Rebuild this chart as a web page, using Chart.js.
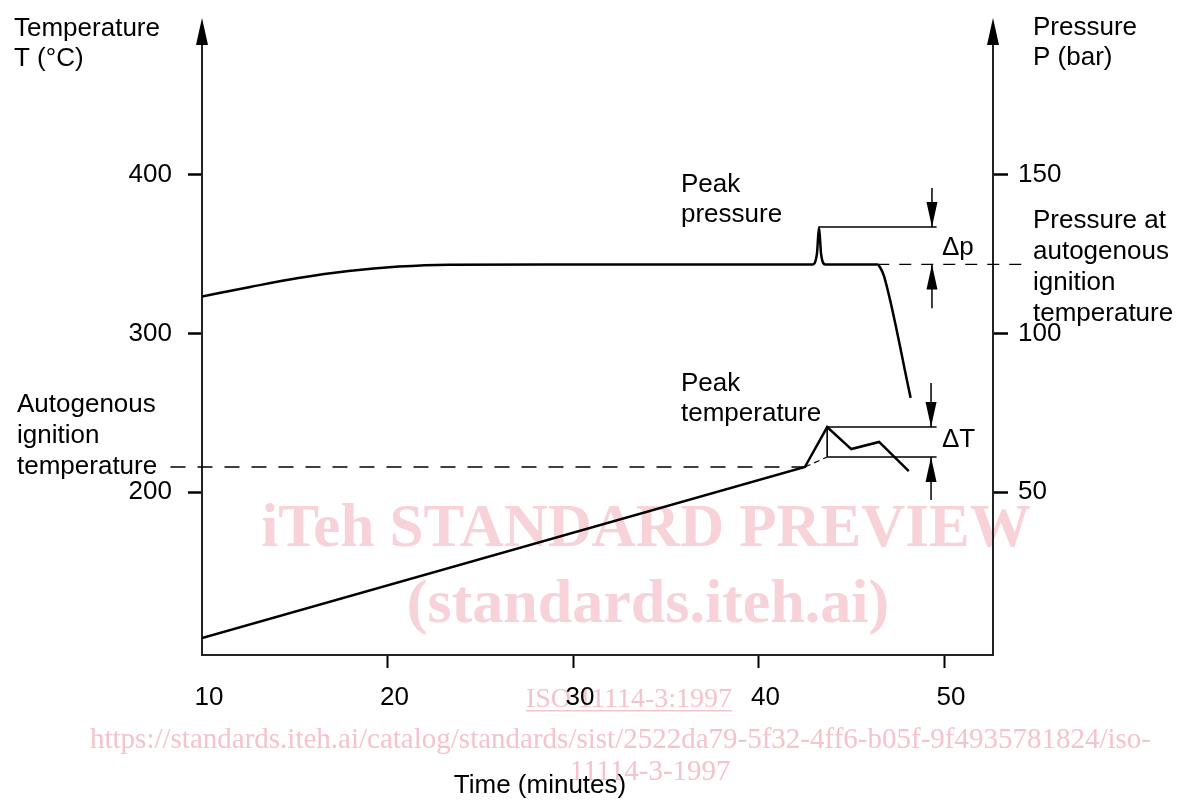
<!DOCTYPE html>
<html>
<head>
<meta charset="utf-8">
<script src="https://cdn.jsdelivr.net/npm/chart.js@4"></script>
<style>
  html, body { margin: 0; padding: 0; background: #fff; }
</style>
</head>
<body>
<canvas id="mycanvas" width="1177" height="803"></canvas>
<script>
// axis ticks
var timeTicks = [10, 20, 30, 40, 50];
var tempTicks = [200, 300, 400];
var pressTicks = [50, 100, 150];

// temperature curve (minutes / °C)
var tempTime  = [10, 42.5, 43.7, 45.0, 46.5, 48.1];
var tempValue = [107.9, 215.8, 241.0, 227.1, 231.6, 213.2];

// pressure curve (minutes / bar)
var pressTime  = [10, 12.6, 15.2, 17.9, 20.6, 23.3, 30, 42.9, 43.15, 43.26, 43.37, 43.6, 46.4, 46.55, 46.77, 48.2];
var pressValue = [111.7, 114.7, 117.5, 119.7, 121.1, 121.7, 121.8, 121.8, 125.2, 133.6, 125.2, 121.8, 121.8, 120.9, 118.0, 79.7];

// reference levels
var ignitionTemp = 215.8;     // autogenous ignition temperature
var ignitionPress = 121.8;    // pressure at autogenous ignition temperature
var peakTemp = [43.7, 241.0];  // time, value
var peakPress = [43.26, 133.6];
var extrapTemp = 222.1;       // trend value at peak time
var markerTime = [49.3, 49.6]; // arrow position, end of marker lines

// arrows: [time, from, to] on each axis (to = tip)
var tempArrows  = [[49.3, 268.8, 241.0], [49.3, 195.0, 222.1]];
var pressArrows = [[49.35, 145.9, 133.6], [49.35, 108.0, 121.8]];

function pts(xs, ys) {
  var out = [];
  for (var i in xs) out.push({x: xs[i], y: ys[i]});
  return out;
}

function arrowHead(ctx, x, y, dir, len, half) {
  ctx.beginPath();
  ctx.moveTo(x, y);
  ctx.lineTo(x - half, y - dir * len);
  ctx.lineTo(x + half, y - dir * len);
  ctx.closePath();
  ctx.fill();
}

var FONT = '"Liberation Sans", Arial, Helvetica, sans-serif';
var SERIF = '"Liberation Serif", "Times New Roman", serif';

var decorations = {
  id: 'decorations',
  beforeDraw: function(chart) {
    var ctx = chart.ctx;
    ctx.save();
    ctx.fillStyle = '#f7d2d8';
    ctx.textAlign = 'center';
    ctx.textBaseline = 'alphabetic';
    ctx.font = 'bold 61px ' + SERIF;
    ctx.fillText('iTeh STANDARD PREVIEW', 646, 546);
    ctx.font = 'bold 62px ' + SERIF;
    ctx.fillText('(standards.iteh.ai)', 648, 622);
    ctx.fillStyle = '#f4c3cb';
    ctx.font = '28px ' + SERIF;
    ctx.fillText('ISO 11114-3:1997', 629, 707);
    var w = ctx.measureText('ISO 11114-3:1997').width;
    ctx.fillRect(629 - w / 2, 710, w, 1.5);
    ctx.textAlign = 'left';
    ctx.font = '29px ' + SERIF;
    ctx.fillText('https://standards.iteh.ai/catalog/standards/sist/2522da79-5f32-4ff6-b05f-9f4935781824/iso-', 90, 748);
    ctx.textAlign = 'center';
    ctx.fillText('11114-3-1997', 650, 780);
    ctx.restore();
  },
  afterDatasetsDraw: function(chart) {
    var ctx = chart.ctx;
    var x = chart.scales.x, yT = chart.scales.yT, yP = chart.scales.yP;
    var area = chart.chartArea;
    ctx.save();
    ctx.fillStyle = '#000';
    // axis arrows
    arrowHead(ctx, area.left, area.top - 27, -1, 27, 6);
    arrowHead(ctx, area.right, area.top - 27, -1, 27, 6);
    // delta arrows
    tempArrows.forEach(function(a) {
      var dir = a[2] > a[1] ? -1 : 1;
      arrowHead(ctx, x.getPixelForValue(a[0]), yT.getPixelForValue(a[2]), dir, 25, 5.5);
    });
    pressArrows.forEach(function(a) {
      var dir = a[2] > a[1] ? -1 : 1;
      arrowHead(ctx, x.getPixelForValue(a[0]), yP.getPixelForValue(a[2]), dir, 25, 5.5);
    });

    // texts
    ctx.font = '26px ' + FONT;
    ctx.textBaseline = 'middle';
    ctx.textAlign = 'left';
    ctx.fillText('Temperature', 14, 29);
    ctx.fillText('T (°C)', 14, 59);
    ctx.fillText('Pressure', 1033, 28);
    ctx.fillText('P (bar)', 1033, 58);
    ctx.fillText('Autogenous', 17, 405);
    ctx.fillText('ignition', 17, 436);
    ctx.fillText('temperature', 17, 467);
    ctx.fillText('Peak', 681, 185);
    ctx.fillText('pressure', 681, 215);
    ctx.fillText('Peak', 681, 384);
    ctx.fillText('temperature', 681, 414);
    ctx.fillText('Δp', 942, 248);
    ctx.fillText('ΔT', 942, 440);
    ctx.fillText('Pressure at', 1033, 221);
    ctx.fillText('autogenous', 1033, 252);
    ctx.fillText('ignition', 1033, 283);
    ctx.fillText('temperature', 1033, 314);
    ctx.textAlign = 'center';
    ctx.fillText('Time (minutes)', 540, 786);
    ctx.restore();
  }
};

var black = '#000';

var chartdata = {
  datasets: [
    {
      label: 'temperature',
      data: pts(tempTime, tempValue),
      yAxisID: 'yT',
      borderColor: black,
      borderWidth: 2.5,
      tension: 0,
      pointRadius: 0
    },
    {
      label: 'pressure',
      data: pts(pressTime, pressValue),
      yAxisID: 'yP',
      borderColor: black,
      borderWidth: 2.5,
      cubicInterpolationMode: 'monotone',
      pointRadius: 0
    },
    {
      label: 'ignition temperature',
      data: [{x: 8.3, y: ignitionTemp}, {x: tempTime[1], y: ignitionTemp}],
      yAxisID: 'yT',
      borderColor: black,
      borderWidth: 1.3,
      borderDash: [15, 12],
      pointRadius: 0,
      clip: false
    },
    {
      label: 'trend',
      data: [{x: tempTime[1], y: ignitionTemp}, {x: peakTemp[0], y: extrapTemp}],
      yAxisID: 'yT',
      borderColor: black,
      borderWidth: 1.2,
      borderDash: [6, 4],
      pointRadius: 0
    },
    {
      label: 'delta T lines',
      data: [
        {x: peakTemp[0], y: peakTemp[1]}, {x: markerTime[1], y: peakTemp[1]}, {x: markerTime[1], y: null},
        {x: peakTemp[0], y: extrapTemp}, {x: markerTime[1], y: extrapTemp}, {x: markerTime[1] + 0.01, y: null},
        {x: peakTemp[0], y: peakTemp[1]}, {x: peakTemp[0], y: extrapTemp}
      ],
      yAxisID: 'yT',
      borderColor: black,
      borderWidth: 1.6,
      pointRadius: 0,
      spanGaps: false,
      parsing: false,
      normalized: false
    },
    {
      label: 'ignition pressure',
      data: [{x: 46.4, y: ignitionPress}, {x: 54.3, y: ignitionPress}],
      yAxisID: 'yP',
      borderColor: black,
      borderWidth: 1.2,
      borderDash: [12, 10],
      pointRadius: 0,
      clip: false
    },
    {
      label: 'peak pressure line',
      data: [{x: peakPress[0], y: peakPress[1]}, {x: markerTime[1], y: peakPress[1]}],
      yAxisID: 'yP',
      borderColor: black,
      borderWidth: 1.6,
      pointRadius: 0
    }
  ]
};

tempArrows.forEach(function(a) {
  chartdata.datasets.push({
    data: [{x: a[0], y: a[1]}, {x: a[0], y: a[2]}],
    yAxisID: 'yT', borderColor: black, borderWidth: 1.5, pointRadius: 0
  });
});
pressArrows.forEach(function(a) {
  chartdata.datasets.push({
    data: [{x: a[0], y: a[1]}, {x: a[0], y: a[2]}],
    yAxisID: 'yP', borderColor: black, borderWidth: 1.5, pointRadius: 0
  });
});

function fixedTicks(list) {
  return function(scale) {
    scale.ticks = list.map(function(v) { return {value: v}; });
  };
}

var ctx = document.getElementById('mycanvas');

var LineGraph = new Chart(ctx, {
  type: 'line',
  data: chartdata,
  plugins: [decorations],
  options: {
    responsive: false,
    animation: false,
    devicePixelRatio: 1,
    layout: { padding: { top: 45, left: 0, right: 0, bottom: 0 } },
    plugins: { legend: { display: false }, tooltip: { enabled: false } },
    scales: {
      x: {
        type: 'linear',
        min: 10,
        max: 52.64,
        afterBuildTicks: fixedTicks(timeTicks),
        afterFit: function(scale) { scale.height = 148; },
        border: { display: true, color: '#222', width: 2 },
        grid: {
          drawOnChartArea: false,
          drawTicks: true,
          tickLength: 13,
          tickWidth: 2,
          tickColor: function(c) { return c.tick && c.tick.value === 10 ? 'rgba(0,0,0,0)' : '#000'; }
        },
        ticks: { color: '#000', font: { size: 26, family: FONT }, padding: 14, labelOffset: 7, maxRotation: 0 }
      },
      yT: {
        type: 'linear',
        position: 'left',
        min: 97.2,
        max: 482.0,
        afterBuildTicks: fixedTicks(tempTicks),
        afterFit: function(scale) { scale.width = 202; },
        border: { display: true, color: '#222', width: 2 },
        grid: { drawOnChartArea: false, drawTicks: true, tickLength: 14, tickWidth: 2.5, tickColor: '#000' },
        ticks: { color: '#000', font: { size: 26, family: FONT }, padding: 16 }
      },
      yP: {
        type: 'linear',
        position: 'right',
        min: -1.4,
        max: 191.0,
        afterBuildTicks: fixedTicks(pressTicks),
        afterFit: function(scale) { scale.width = 184; },
        border: { display: true, color: '#222', width: 2 },
        grid: { drawOnChartArea: false, drawTicks: true, tickLength: 15, tickWidth: 2.5, tickColor: '#000' },
        ticks: { color: '#000', font: { size: 26, family: FONT }, padding: 10 }
      }
    }
  }
});
</script>
</body>
</html>
